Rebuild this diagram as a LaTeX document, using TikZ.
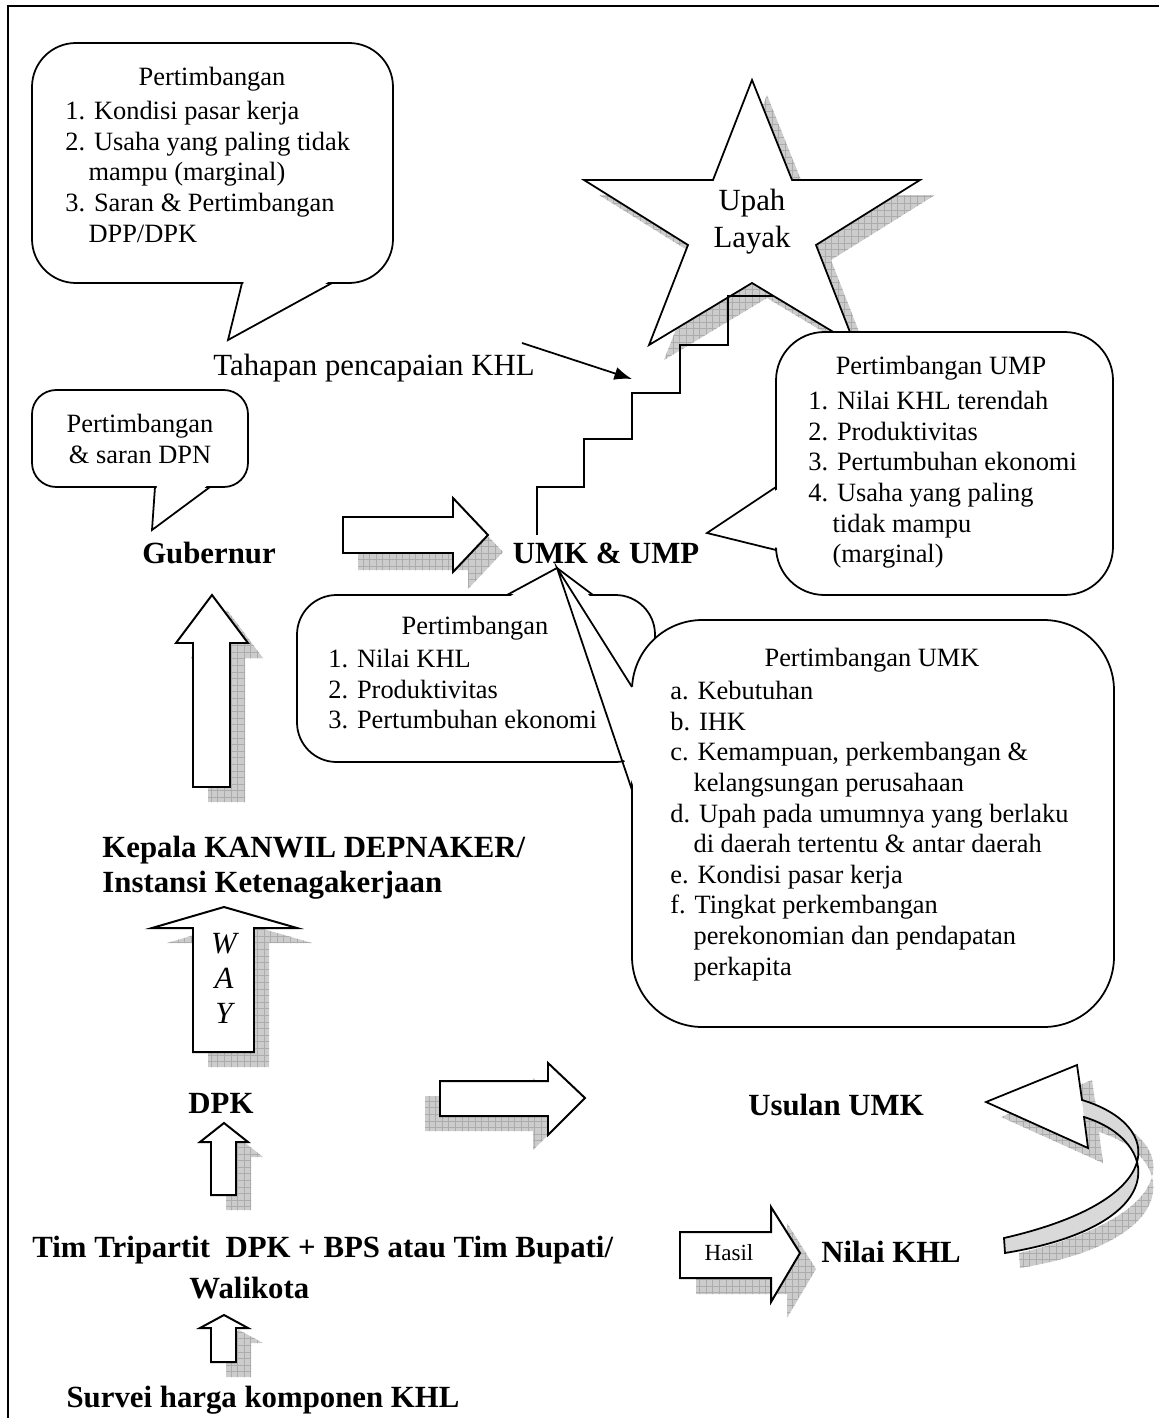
\documentclass[tikz,border=0pt]{standalone}
\usepackage{fontspec}
\setmainfont{Liberation Serif}
\usetikzlibrary{arrows.meta,patterns}

\begin{document}
\begin{tikzpicture}[x=0.4545pt,y=-0.4545pt,
	bubble/.style={draw,fill=white,line width=0.8pt},
	tail/.style={fill=white},
	tailline/.style={line width=0.8pt,line join=miter},
	blockarr/.style={draw,fill=white,line width=0.9pt,line join=miter},
	shadowfill/.style={fill=gray!40,postaction={pattern=grid,pattern color=gray!65}},
	lbl/.style={inner sep=0pt,font=\fontsize{14}{16}\selectfont\bfseries},
	txt/.style={inner sep=0pt,align=left,font=\fontsize{12}{13.9}\selectfont}]
	\useasboundingbox (0,0) rectangle (1159,1418);
	\draw[line width=0.9pt] (8,1418) -- (8,6) -- (1159,6);

	% star and stairs
	\foreach \dx/\dy/\s in {15/15/shadowfill,0/0/bubble}
		\path[\s,shift={(\dx,\dy)}] (752,80) -- (792,180) -- (920,180) -- (816,245) -- (855,345) -- (752,283)
			-- (649,345) -- (688,245) -- (584,180) -- (713,180) -- cycle;
	\node[inner sep=0pt,align=center,font=\fontsize{14}{16.8}\selectfont] (upah) at (752,222) {Upah\\Layak};
	\draw[line width=0.8pt] (537,535) -- (537,487) -- (584,487) -- (584,439) -- (632,439) -- (632,393)
		-- (680,393) -- (680,345) -- (728,345) -- (728,296) -- (773,296);

	\node[inner sep=0pt,anchor=base west,font=\fontsize{14}{16}\selectfont] (tahapan) at (213,375) {Tahapan pencapaian KHL};
	\coordinate (tahapanend) at (522,343);
	\coordinate (steptip) at (632,379);
	\draw[line width=0.8pt,-{Latex[length=8pt,width=6pt]}] (tahapanend) -- (steptip);

	% callouts
	\path[bubble,rounded corners=20pt] (32,43) rectangle (393,283);
	\fill[tail] (244,281) -- (228,340) -- (330,281) -- cycle;
	\draw[tailline] (242,283) -- (228,340) -- (332,283);
	\node[txt] (tltitle) at (212,79) {Pertimbangan};
	\node[txt,anchor=north west] (tlnote) at (65,101) {1. Kondisi pasar kerja\\2. Usaha yang paling tidak\\
		\hspace*{10.5pt}mampu (marginal)\\3. Saran \& Pertimbangan\\\hspace*{10.5pt}DPP/DPK};

	\path[bubble,rounded corners=11pt] (32,390) rectangle (248,487);
	\fill[tail] (157,485) -- (152,530) -- (208,485) -- cycle;
	\draw[tailline] (155,487) -- (152,530) -- (210,487);
	\node[txt,align=center] (dpnnote) at (140,439) {Pertimbangan\\\& saran DPN};

	\path[bubble,rounded corners=22pt] (776,332) rectangle (1113,595);
	\fill[tail] (778,489) -- (707,533) -- (778,548) -- cycle;
	\draw[tailline] (776,487) -- (707,533) -- (776,550);
	\node[txt] (umptitle) at (941,368) {Pertimbangan UMP};
	\node[txt,anchor=north west] (umpnote) at (808,391) {1. Nilai KHL terendah\\2. Produktivitas\\
		3. Pertumbuhan ekonomi\\4. Usaha yang paling\\\hspace*{11pt}tidak mampu\\\hspace*{11pt}(marginal)};

	\path[bubble,rounded corners=18pt] (297,595) rectangle (655,762);
	\fill[tail] (509,597) -- (557,568) -- (591,597) -- cycle;
	\draw[tailline] (507,595) -- (557,568) -- (593,595);
	\node[txt] (midtitle) at (475,628) {Pertimbangan};
	\node[txt,anchor=north west] (midnote) at (328,649) {1. Nilai KHL\\2. Produktivitas\\3. Pertumbuhan ekonomi};

	\path[bubble,rounded corners=32pt] (632,620) rectangle (1114,1027);
	\fill[tail] (557,568) -- (634,689) -- (634,788) -- cycle;
	\draw[tailline] (632,687) -- (557,568) -- (632,790);
	\node[txt] (umktitle) at (872,660) {Pertimbangan UMK};
	\node[txt,anchor=north west] (umknote) at (670,681) {a. Kebutuhan\\b. IHK\\c. Kemampuan, perkembangan \&\\
		\hspace*{10.5pt}kelangsungan perusahaan\\d. Upah pada umumnya yang berlaku\\
		\hspace*{10.5pt}di daerah tertentu \& antar daerah\\e. Kondisi pasar kerja\\f. Tingkat perkembangan\\
		\hspace*{10.5pt}perekonomian dan pendapatan\\\hspace*{10.5pt}perkapita};

	% labels
	\node[lbl] (gub) at (209,553) {Gubernur};
	\node[lbl] (umkump) at (606,553) {UMK \& UMP};
	\node[lbl,anchor=north west,align=left,font=\fontsize{14}{15.9}\selectfont\bfseries] (kepala) at (102,836)
		{Kepala KANWIL DEPNAKER/\\Instansi Ketenagakerjaan};
	\node[lbl] (dpk) at (221,1103) {DPK};
	\node[lbl] (usulan) at (836,1105) {Usulan UMK};
	\node[lbl,anchor=base west] (tim) at (32,1257) {Tim Tripartit\ \ DPK + BPS atau Tim Bupati/};
	\node[lbl,anchor=base west] (wali) at (189,1298) {Walikota};
	\node[lbl] (nilai) at (891,1252) {Nilai KHL};
	\node[lbl] (survei) at (263,1400) {Survei harga komponen KHL};

	% block arrows
	\foreach \dx/\dy/\s in {15/17/shadowfill,0/0/blockarr}
		\path[\s,shift={(\dx,\dy)}] (343,517) -- (453,517) -- (453,498) -- (488,535) -- (453,572) -- (453,553) -- (343,553) -- cycle;
	\foreach \dx/\dy/\s in {15/15/shadowfill,0/0/blockarr}
		\path[\s,shift={(\dx,\dy)}] (193,787) -- (193,643) -- (176,643) -- (212,595) -- (248,643) -- (230,643) -- (230,787) -- cycle;
	\foreach \dx/\dy/\s in {15/15/shadowfill,0/0/blockarr}
		\path[\s,shift={(\dx,\dy)}] (193,1052) -- (193,928) -- (152,928) -- (224,907) -- (297,928) -- (254,928) -- (254,1052) -- cycle;
	\node[inner sep=0pt,align=center,font=\fontsize{14}{15.9}\selectfont\itshape] (way) at (224,978) {W\\A\\Y};
	\foreach \dx/\dy/\s in {15/15/shadowfill,0/0/blockarr}
		\path[\s,shift={(\dx,\dy)}] (211,1195) -- (211,1142) -- (200,1142) -- (224,1123) -- (248,1142) -- (236,1142) -- (236,1195) -- cycle;
	\foreach \dx/\dy/\s in {15/15/shadowfill,0/0/blockarr}
		\path[\s,shift={(\dx,\dy)}] (211,1362) -- (211,1328) -- (200,1328) -- (224,1315) -- (248,1328) -- (236,1328) -- (236,1362) -- cycle;
	\foreach \dx/\dy/\s in {-15/15/shadowfill,0/0/blockarr}
		\path[\s,shift={(\dx,\dy)}] (440,1081) -- (548,1081) -- (548,1063) -- (585,1098) -- (548,1135) -- (548,1116) -- (440,1116) -- cycle;
	\foreach \dx/\dy/\s in {16/16/shadowfill,0/0/blockarr}
		\path[\s,shift={(\dx,\dy)}] (680,1232) -- (771,1232) -- (771,1207) -- (800,1253) -- (771,1302) -- (771,1278) -- (680,1278) -- cycle;
	\node[inner sep=0pt,font=\fontsize{10.5}{12}\selectfont] (hasil) at (729,1253) {Hasil};

	% curved arrow back to Usulan UMK
	\fill[shadowfill,shift={(15,15)}] (986,1102) -- (1077,1065) -- (1082,1100) .. controls (1165,1125) and (1170,1200) .. (1004,1238)
		-- (1005,1253) .. controls (1175,1225) and (1160,1140) .. (1084,1117) -- (1088,1148) -- cycle;
	\fill[gray!30] (1082,1100) .. controls (1165,1125) and (1170,1200) .. (1004,1238)
		-- (1005,1253) .. controls (1175,1225) and (1160,1140) .. (1084,1117) -- cycle;
	\fill[white] (986,1102) -- (1077,1065) -- (1082,1100) -- (1084,1117) -- (1088,1148) -- cycle;
	\draw[line width=0.8pt,line join=miter] (986,1102) -- (1077,1065) -- (1082,1100) .. controls (1165,1125) and (1170,1200) .. (1004,1238)
		-- (1005,1253) .. controls (1175,1225) and (1160,1140) .. (1084,1117) -- (1088,1148) -- cycle;
\end{tikzpicture}
\end{document}
